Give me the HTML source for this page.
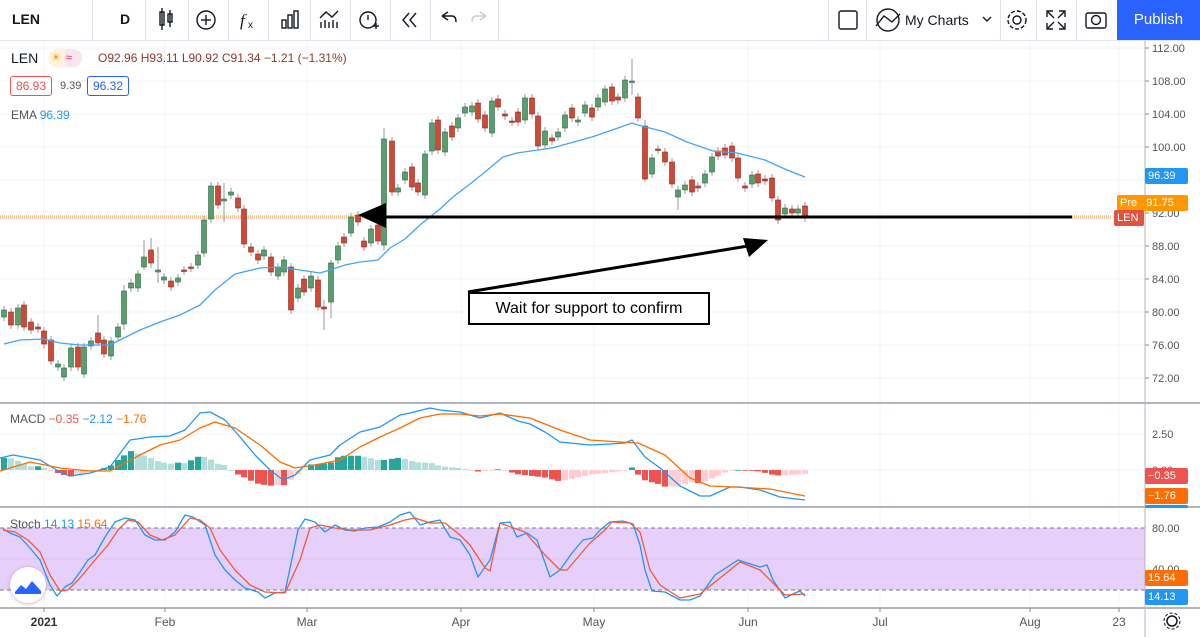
<!DOCTYPE html>
<html><head><meta charset="utf-8"><style>
body{margin:0;width:1200px;height:637px;overflow:hidden;background:#fff;font-family:"Liberation Sans",sans-serif;position:relative}
.tb{position:absolute;left:0;top:0;width:1200px;height:40px;border-bottom:1px solid #e0e3eb;background:#fff}
.t{position:absolute;font-size:14px;color:#131722}
.sep{position:absolute;top:0;width:1px;height:40px;background:#e0e3eb}
.lbl{position:absolute;font-size:11px;color:#fff;border-radius:2px;height:16px;line-height:16px;padding:0 3px;box-sizing:border-box}
</style></head><body>
<div class="tb">
<div class="t" style="left:12px;top:11px;font-weight:bold">LEN</div>
<div class="sep" style="left:92px"></div>
<div class="t" style="left:120px;top:11px;font-weight:bold">D</div>
<div class="sep" style="left:145px"></div>
<svg style="position:absolute;left:0;top:0" width="1200" height="40" fill="none" stroke="#131722" stroke-width="1.4">
<rect x="160" y="12" width="4" height="13"/><line x1="162" y1="8" x2="162" y2="30"/><rect x="168" y="14" width="4" height="8"/><line x1="170" y1="10" x2="170" y2="27"/>
<circle cx="206" cy="20" r="9"/><line x1="201" y1="20" x2="211" y2="20"/><line x1="206" y1="15" x2="206" y2="25"/>
<text x="240" y="26" font-size="17" font-style="italic" fill="#131722" stroke="none" font-family="Liberation Serif">f</text><text x="248" y="28" font-size="10" fill="#131722" stroke="none">x</text>
<rect x="282" y="20" width="4" height="8"/><rect x="288" y="15" width="4" height="13"/><rect x="294" y="11" width="4" height="17"/>
<polyline points="320,18 326,12 332,17 338,11"/><line x1="321" y1="22" x2="321" y2="28"/><line x1="325" y1="20" x2="325" y2="28"/><line x1="329" y1="22" x2="329" y2="28"/><line x1="333" y1="20" x2="333" y2="28"/><line x1="337" y1="22" x2="337" y2="28"/>
<circle cx="368" cy="20" r="8"/><line x1="368" y1="15" x2="368" y2="20"/><line x1="373" y1="26" x2="379" y2="26"/><line x1="376" y1="23" x2="376" y2="29"/>
<polyline points="409,13 403,20 409,27"/><polyline points="416,13 410,20 416,27"/>
<path d="M442 16 L448 12 M442 16 L448 20 M442 16 H452 Q456 16 456 22"/>
<path d="M486 16 L480 12 M486 16 L480 20 M486 16 H476 Q472 16 472 22" stroke="#c8ccd4"/>
<rect x="839" y="11" width="18" height="18" rx="2"/>
<path d="M876 26 L884 16 L892 22 L900 14"/><circle cx="888" cy="20" r="11" stroke="#131722"/>
<polyline points="983,17 987,21 991,17"/>
<circle cx="1017" cy="20" r="4"/><circle cx="1017" cy="20" r="9" stroke-dasharray="4 2"/>
<path d="M1047 17 V11 H1053 M1065 17 V11 H1059 M1047 23 V29 H1053 M1065 23 V29 H1059 M1048 12 L1054 18 M1064 12 L1058 18 M1048 28 L1054 22 M1064 28 L1058 22"/>
<rect x="1086" y="13" width="20" height="15" rx="2"/><circle cx="1096" cy="20" r="4.5"/>
</svg>
<div class="sep" style="left:188px"></div><div class="sep" style="left:228px"></div><div class="sep" style="left:268px"></div><div class="sep" style="left:310px"></div><div class="sep" style="left:350px"></div><div class="sep" style="left:390px"></div><div class="sep" style="left:430px"></div><div class="sep" style="left:498px"></div>
<div class="sep" style="left:828px"></div><div class="sep" style="left:866px"></div><div class="sep" style="left:1000px"></div><div class="sep" style="left:1036px"></div><div class="sep" style="left:1076px"></div>
<div class="t" style="left:905px;top:12px">My Charts</div>
<div style="position:absolute;left:1117px;top:0;width:83px;height:40px;background:#2962ff;color:#fff;font-size:15px;line-height:40px;text-align:center">Publish</div>
</div>
<svg id="c" style="position:absolute;left:0;top:41px" width="1200" height="596"></svg>
<div style="position:absolute;left:11px;top:50px;font-size:14px;color:#131722">LEN</div>
<div style="position:absolute;left:48px;top:49px;width:34px;height:18px;border-radius:9px;background:linear-gradient(90deg,#fff3e0 50%,#fce4ec 50%);font-size:11px;line-height:18px"><span style="color:#ff9800;margin-left:3px">☀</span><span style="color:#e91e63;margin-left:5px">≈</span></div>
<div style="position:absolute;left:98px;top:51px;font-size:12px;color:#8b3a2b">O92.96 H93.11 L90.92 C91.34 −1.21 (−1.31%)</div>
<div style="position:absolute;left:10px;top:76px;border:1px solid #ef5350;border-radius:3px;color:#ef5350;font-size:12px;padding:2px 5px">86.93</div>
<div style="position:absolute;left:60px;top:80px;color:#555;font-size:11px">9.39</div>
<div style="position:absolute;left:87px;top:76px;border:1px solid #2962ff;border-radius:3px;color:#2962ff;font-size:12px;padding:2px 5px">96.32</div>
<div style="position:absolute;left:11px;top:108px;font-size:12px;color:#555">EMA <span style="color:#2196f3">96.39</span></div>
<div style="position:absolute;left:10px;top:412px;font-size:12px;color:#555">MACD <span style="color:#ef5350">−0.35</span> <span style="color:#2196f3">−2.12</span> <span style="color:#ff6d00">−1.76</span></div>
<div style="position:absolute;left:10px;top:517px;font-size:12px;color:#555">Stoch <span style="color:#2196f3">14.13</span> <span style="color:#ff6d00">15.64</span></div>
<div style="position:absolute;left:10px;top:567px;width:36px;height:36px;border-radius:18px;background:#fff;box-shadow:0 1px 4px rgba(0,0,0,.25)"><svg width="36" height="36"><path d="M5 25 L11 18 L16 22 L22 14 L31 24 L31 27 L5 27Z" fill="#2962ff"/></svg></div>
<div style="position:absolute;left:468px;top:292px;width:238px;height:29px;border:2px solid #000;background:#fff;font-size:16px;line-height:29px;text-align:center;color:#000">Wait for support to confirm</div>
<div class="lbl" style="left:1145px;top:168px;background:#2196f3;width:43px">96.39</div>
<div class="lbl" style="left:1117px;top:195px;background:#ff9800;width:71px">Pre&nbsp;&nbsp;&nbsp;91.75</div>
<div class="lbl" style="left:1114px;top:210px;background:#e0533f;width:30px">LEN</div>
<div class="lbl" style="left:1145px;top:468px;background:#ef5350;width:43px">−0.35</div>
<div class="lbl" style="left:1145px;top:488px;background:#ff6d00;width:43px">−1.76</div>
<div class="lbl" style="left:1145px;top:505px;background:#2196f3;width:43px;height:3px"></div>
<div class="lbl" style="left:1145px;top:570px;background:#ff6d00;width:43px">15.64</div>
<div class="lbl" style="left:1145px;top:589px;background:#2196f3;width:43px">14.13</div>
<script>
const S=document.getElementById('c');let h='';const o=41;
function Y(y){return y-o}
function L(x1,y1,x2,y2,c,w,extra){h+=`<line x1="${x1}" y1="${Y(y1)}" x2="${x2}" y2="${Y(y2)}" stroke="${c}" stroke-width="${w}" ${extra||''}/>`}
const months=[44,165,307,461,594,748,880,1030,1119];
for(const x of months){L(x,41,x,402,'#f0f3fa',1);L(x,404,x,506,'#f0f3fa',1);L(x,509,x,607,'#f0f3fa',1)}
for(let p=112;p>=72;p-=4){const y=81+(108-p)*8.25;L(0,y,1145,y,'#f0f3fa',1);if(y>44)h+=`<text x="1152" y="${Y(y)+4}" font-size="11" fill="#555">${p.toFixed(2)}</text>`;L(1145,y,1149,y,'#888',1)}
L(0,434,1145,434,'#f0f3fa',1);L(0,470,1145,470,'#f0f3fa',1);
h+=`<text x="1152" y="${Y(434)+4}" font-size="11" fill="#555">2.50</text><text x="1152" y="${Y(474)}" font-size="11" fill="#555">0.00</text>`;
h+=`<rect x="0" y="${Y(528)}" width="1145" height="62" fill="#e7cffb"/>`;
L(0,559,1145,559,'#dcc0f0',1);
L(0,528,1145,528,'#787b86',1,'stroke-dasharray="4 3"');L(0,590,1145,590,'#787b86',1,'stroke-dasharray="4 3"');
h+=`<text x="1152" y="${Y(532)}" font-size="11" fill="#555">80.00</text><text x="1152" y="${Y(573)}" font-size="11" fill="#555">40.00</text>`;
L(0,403,1200,403,'#b2b5be',2);L(0,507,1200,507,'#b2b5be',2);L(0,608,1200,608,'#b2b5be',2);L(1145,41,1145,637,'#b2b5be',1);
const ml=[['2021',44,1],['Feb',165],['Mar',307],['Apr',461],['May',594],['Jun',748],['Jul',880],['Aug',1030],['23',1119]];
for(const m of ml){h+=`<text x="${m[1]}" y="${Y(626)}" font-size="12" text-anchor="middle" fill="${m[2]?'#333':'#555'}" ${m[2]?'font-weight="bold"':''}>${m[0]}</text>`;L(m[1],608,m[1],612,'#888',1)}
h+=`<circle cx="1172" cy="${Y(621)}" r="5" fill="none" stroke="#131722" stroke-width="1.5"/><circle cx="1172" cy="${Y(621)}" r="8" fill="none" stroke="#131722" stroke-width="1" stroke-dasharray="3 2"/>`;
L(0,216,1112,216,'#ff9800',1,'stroke-dasharray="1 1"');L(0,218,1112,218,'#ef5350',0.8,'stroke-dasharray="1 1"');
const C=[[4,317,310,1],[11,312,325,0],[18,325,308,1],[24,305,327,0],[31,322,330,0],[38,327,329,0],[44,331,344,0],[51,340,361,0],[58,367,364,1],[64,377,368,1],[71,367,348,1],[78,347,367,0],[84,374,347,1],[91,346,341,1],[98,333,343,0],[104,340,354,0],[111,356,341,1],[118,337,327,1],[124,324,291,1],[131,288,283,1],[138,288,274,1],[144,267,257,1],[151,250,263,0],[158,272,270,1],[164,280,277,1],[171,281,287,0],[178,282,278,1],[184,270,271,0],[191,267,268,0],[198,265,255,1],[204,253,220,1],[211,219,186,1],[218,186,205,0],[224,201,199,1],[231,195,192,1],[238,198,208,0],[244,209,244,0],[251,247,252,0],[258,254,260,0],[264,256,250,1],[271,257,272,0],[278,276,267,1],[284,272,260,1],[291,267,310,0],[298,298,288,1],[304,279,292,0],[311,288,276,1],[318,280,307,0],[324,307,309,0],[331,302,263,1],[338,260,246,1],[344,237,243,0],[351,233,217,1],[358,215,222,0],[364,241,247,0],[371,243,229,1],[378,225,241,0],[384,245,139,1],[392,141,192,0],[398,192,188,1],[405,180,172,1],[412,167,187,0],[418,183,192,0],[425,195,154,1],[432,151,123,1],[438,120,150,0],[445,152,132,1],[452,126,137,0],[458,128,118,1],[465,113,107,1],[472,112,106,1],[478,103,119,0],[485,115,128,0],[492,133,101,1],[498,99,107,0],[505,114,116,0],[512,121,122,0],[518,112,122,0],[525,120,98,1],[532,98,114,0],[538,116,146,0],[545,145,131,1],[552,138,141,0],[558,137,132,1],[565,128,115,1],[572,108,118,0],[578,122,120,1],[585,113,105,1],[592,108,117,0],[598,107,98,1],[605,102,89,1],[612,87,101,0],[618,97,100,0],[625,98,80,1],[632,82,81,1],[638,97,118,0],[645,126,179,0],[652,174,158,1],[658,149,150,0],[665,152,162,0],[672,162,184,0],[678,197,190,1],[685,190,185,1],[692,180,192,0],[698,186,188,0],[705,183,174,1],[712,172,157,1],[718,151,156,0],[725,148,155,0],[732,146,158,0],[738,158,178,0],[745,186,188,0],[752,184,175,1],[758,174,183,0],[765,179,181,0],[772,178,198,0],[778,200,220,0],[785,214,208,1],[792,209,213,0],[798,213,209,1],[805,206,218,0]];
const wk={98:[315,345],124:[285,330],144:[240,270],151:[238,268],158:[247,283],224:[183,222],324:[300,330],331:[260,318],632:[59,95],645:[120,182],678:[186,210],384:[128,250]};
for(const c of C){const[x,a,b,g]=c;const t=Math.min(a,b),bt=Math.max(a,b);const w=wk[x]||[t-4,bt+4];
L(x,w[0],x,w[1],'#999',1);h+=`<rect x="${x-2.5}" y="${Y(t)}" width="5" height="${Math.max(bt-t,1.5)}" fill="${g?'#5b9e6e':'#d14836'}" stroke="${g?'#2e6b44':'#8a2a20'}" stroke-width="0.6"/>`}
function P(pts,c,w){h+=`<polyline points="${pts.map(p=>p[0]+','+Y(p[1])).join(' ')}" fill="none" stroke="${c}" stroke-width="${w}" stroke-linejoin="round"/>`}
P([[4,344],[20,340],[44,339],[60,343],[80,345],[110,345],[120,340],[140,330],[160,322],[180,315],[200,305],[215,290],[235,274],[260,268],[280,267],[300,270],[320,273],[330,270],[345,265],[360,262],[378,260],[390,248],[405,239],[420,225],[440,209],[453,197],[470,184],[485,172],[503,157],[517,153],[552,148],[592,137],[618,128],[632,123],[638,125],[665,132],[687,142],[713,151],[737,153],[765,160],[787,170],[805,177]],'#42a5f5',1.3);
const mb=[[0,458],[13,455],[40,460],[60,472],[70,476],[90,473],[110,467],[130,440],[150,437],[170,436],[185,430],[200,413],[210,412],[225,420],[240,437],[255,455],[270,470],[283,480],[295,475],[310,460],[330,455],[340,445],[360,432],[380,427],[400,415],[410,413],[430,408],[440,410],[460,412],[480,418],[500,413],[518,421],[530,424],[545,432],[560,442],[580,444],[590,445],[610,444],[625,443],[632,440],[645,457],[660,468],[680,486],[700,496],[710,496],[730,487],[740,487],[760,490],[780,497],[805,500]];
const mo=[[0,471],[30,462],[60,468],[90,471],[110,471],[140,455],[160,445],[180,440],[200,428],[215,422],[235,428],[260,445],[280,462],[295,468],[315,465],[340,460],[360,447],[380,437],[400,428],[420,418],[440,414],[460,414],[480,416],[500,414],[530,418],[560,430],[590,440],[620,442],[638,443],[665,455],[690,478],[710,486],[735,487],[770,489],[805,496]];
function I(a,x){for(let i=1;i<a.length;i++)if(x<=a[i][0]){const[p,q]=[a[i-1],a[i]];return p[1]+(q[1]-p[1])*(x-p[0])/(q[0]-p[0])}return a[a.length-1][1]}
let prev=0;for(const c of C){const x=c[0];const v=(I(mo,x)-I(mb,x))*0.95;const inc=Math.abs(v)>=Math.abs(prev);let col=v>=0?(inc?'#26a69a':'#b2dfdb'):(inc?'#ef5350':'#ffcdd2');prev=v;
h+=`<rect x="${x-3}" y="${Y(v>=0?470-v:470)}" width="6" height="${Math.max(Math.abs(v),0.8)}" fill="${col}"/>`}
P(mb,'#2196f3',1.3);P(mo,'#ff6d00',1.3);
P([[3,529],[10,533],[20,537],[30,548],[40,560],[50,585],[57,596],[65,587],[72,583],[80,572],[88,560],[95,555],[105,537],[115,522],[125,518],[135,520],[145,535],[155,540],[165,540],[175,532],[185,515],[193,517],[205,525],[215,555],[225,570],[235,580],[245,588],[258,592],[265,598],[275,593],[285,592],[298,530],[305,519],[315,522],[325,532],[335,525],[345,530],[355,531],[365,528],[378,527],[390,522],[400,515],[410,512],[420,525],[430,522],[440,520],[450,537],[460,540],[470,555],[478,577],[490,560],[500,523],[510,522],[517,537],[527,533],[537,540],[550,577],[560,570],[572,553],[583,540],[593,538],[600,530],[610,522],[623,521],[633,524],[640,545],[645,570],[652,591],[665,592],[680,600],[690,600],[700,596],[715,575],[738,560],[760,567],[767,565],[773,580],[785,598],[795,593],[800,591],[805,596]],'#2196f3',1.3);
P([[3,530],[15,532],[28,540],[40,552],[50,575],[60,591],[68,590],[80,578],[95,560],[108,545],[118,530],[128,520],[138,522],[150,535],[162,540],[175,535],[190,518],[200,520],[210,528],[220,550],[235,570],[250,585],[265,592],[285,593],[300,560],[310,528],[320,525],[335,528],[350,530],[370,530],[390,525],[405,520],[415,518],[430,523],[445,523],[460,535],[470,545],[485,568],[490,571],[500,523],[525,532],[545,555],[560,570],[567,570],[590,543],[605,530],[612,522],[630,523],[640,532],[650,570],[660,585],[680,598],[700,594],[720,578],[740,562],[760,570],[775,585],[785,595],[805,594]],'#f05a3c',1.3);
L(380,217,1072,217,'#000',3);h+=`<polygon points="358,${Y(215)} 386,${Y(203)} 386,${Y(228)}" fill="#000"/>`;
L(468,292,748,246,'#000',3);h+=`<polygon points="768,${Y(240)} 743,${Y(238)} 749,${Y(257)}" fill="#000"/>`;
S.innerHTML=h;
</script>
</body></html>
